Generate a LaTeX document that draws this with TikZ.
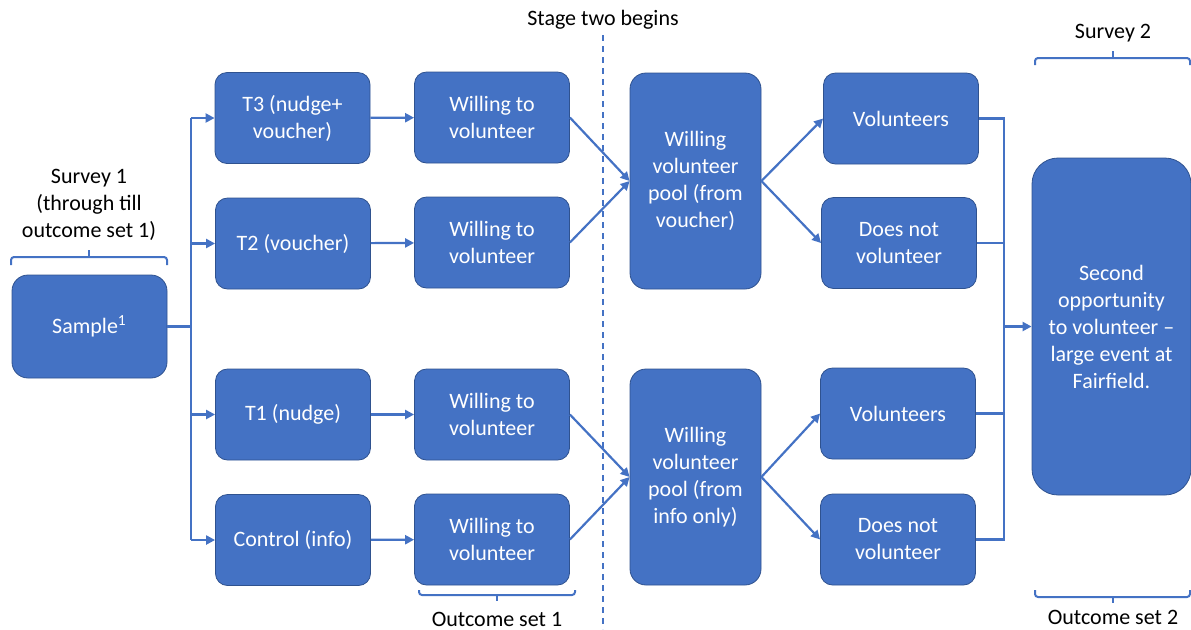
\documentclass[tikz,border=0pt]{standalone}
\usepackage{fontspec}
\setmainfont{Carlito}
\usetikzlibrary{arrows.meta,positioning}
\definecolor{boxblue}{HTML}{4472C4}
\definecolor{edgeblue}{HTML}{2F528F}

\begin{document}
\begin{tikzpicture}[
  x=0.5pt,y=-0.5pt,
  >={Triangle[length=4.5pt,width=4.5pt]},
  font=\fontsize{11}{13.5}\selectfont,
  process/.style={draw=edgeblue,line width=0.4pt,fill=boxblue,text=white,rounded corners=6pt,
    minimum width=77.5pt,minimum height=45.5pt,align=center,inner sep=2pt},
  pool/.style={process,minimum width=65.5pt,minimum height=108pt,rounded corners=8pt},
  final/.style={process,minimum width=79.5pt,minimum height=168.5pt,rounded corners=13pt},
  flow/.style={->,draw=boxblue,line width=1.1pt},
  link/.style={draw=boxblue,line width=1.1pt},
  bracket/.style={draw=boxblue,line width=1pt,rounded corners=1.5pt},
  label/.style={align=center,text=black,inner sep=0pt}
]
  \useasboundingbox (0,0) rectangle (1191,629);

  % boxes
  \node[process,minimum height=51.5pt,rounded corners=8pt] (sample) at (89.5,326.5) {Sample\textsuperscript{1}};
  \node[process] (tthree) at (292.5,118) {T3 (nudge+\\voucher)};
  \node[process] (ttwo) at (293,243.5) {T2 (voucher)};
  \node[process] (tone) at (293,414.5) {T1 (nudge)};
  \node[process] (control) at (293,540) {Control (info)};
  \node[process] (wthree) at (492,117.5) {Willing to\\volunteer};
  \node[process] (wtwo) at (492,242.5) {Willing to\\volunteer};
  \node[process] (wone) at (492,414.5) {Willing to\\volunteer};
  \node[process] (wctrl) at (492,539.5) {Willing to\\volunteer};
  \node[pool] (ptop) at (695.5,181) {Willing\\volunteer\\pool (from\\voucher)};
  \node[pool] (pbot) at (695.5,477) {Willing\\volunteer\\pool (from\\info only)};
  \node[process] (vtop) at (901,118.5) {Volunteers};
  \node[process] (ntop) at (899,243) {Does not\\volunteer};
  \node[process] (vbot) at (898,413.5) {Volunteers};
  \node[process] (nbot) at (898,539.5) {Does not\\volunteer};
  \node[final] (opp) at (1111.5,326.5) {Second\\opportunity\\to volunteer --\\large event at\\Fairfield.};

  % labels
  \node[label] (stage) at (603,20) {Stage two begins};
  \node[label] (surveyone) at (89,205) {Survey 1\\(through till\\outcome set 1)};
  \node[label] (outone) at (497,619) {Outcome set 1};
  \node[label] (surveytwo) at (1113,33) {Survey 2};
  \node[label] (outtwo) at (1113,617) {Outcome set 2};

  % stage divider
  \draw[boxblue,line width=0.8pt,dash pattern=on 3pt off 2.5pt] (stage.south |- 0,35) -- (stage.south |- 0,629);

  % brackets
  \draw[bracket] (11,265) -- (11,257) -- (167,257) -- (167,265);
  \draw[bracket] (89,257) -- (89,250);
  \draw[bracket] (419,590) -- (419,595) -- (575,595) -- (575,590);
  \draw[bracket] (497,595) -- (497,601);
  \draw[bracket] (1035,65) -- (1035,58) -- (1190,58) -- (1190,65);
  \draw[bracket] (1113,58) -- (1113,51);
  \draw[bracket] (1035,590) -- (1035,597) -- (1190,597) -- (1190,590);
  \draw[bracket] (1113,597) -- (1113,603);

  % left bus
  \coordinate (lbus) at (191,326.5);
  \draw[link] (sample.east) -- (lbus);
  \draw[link] (lbus |- tthree) -- (lbus |- control);
  \foreach \t in {tthree,ttwo,tone,control}
    \draw[flow] (lbus |- \t) -- (\t.west);

  % treatment to willing
  \draw[flow] (tthree) -- (wthree);
  \draw[flow] (ttwo) -- (wtwo);
  \draw[flow] (tone) -- (wone);
  \draw[flow] (control) -- (wctrl);

  % willing to pools
  \draw[flow] (wthree.east) -- (ptop.west);
  \draw[flow] (wtwo.east) -- (ptop.west);
  \draw[flow] (wone.east) -- (pbot.west);
  \draw[flow] (wctrl.east) -- (pbot.west);

  % pools to outcomes
  \draw[flow] (ptop.east) -- (vtop.west);
  \draw[flow] (ptop.east) -- (ntop.west);
  \draw[flow] (pbot.east) -- (vbot.west);
  \draw[flow] (pbot.east) -- (nbot.west);

  % right bus
  \coordinate (rbus) at (1004,326.5);
  \draw[link] (vtop.east) -| (rbus |- nbot) -- (nbot.east);
  \draw[link] (ntop.east) -- (rbus |- ntop);
  \draw[link] (vbot.east) -- (rbus |- vbot);
  \draw[flow] (rbus) -- (opp.west);
\end{tikzpicture}
\end{document}
